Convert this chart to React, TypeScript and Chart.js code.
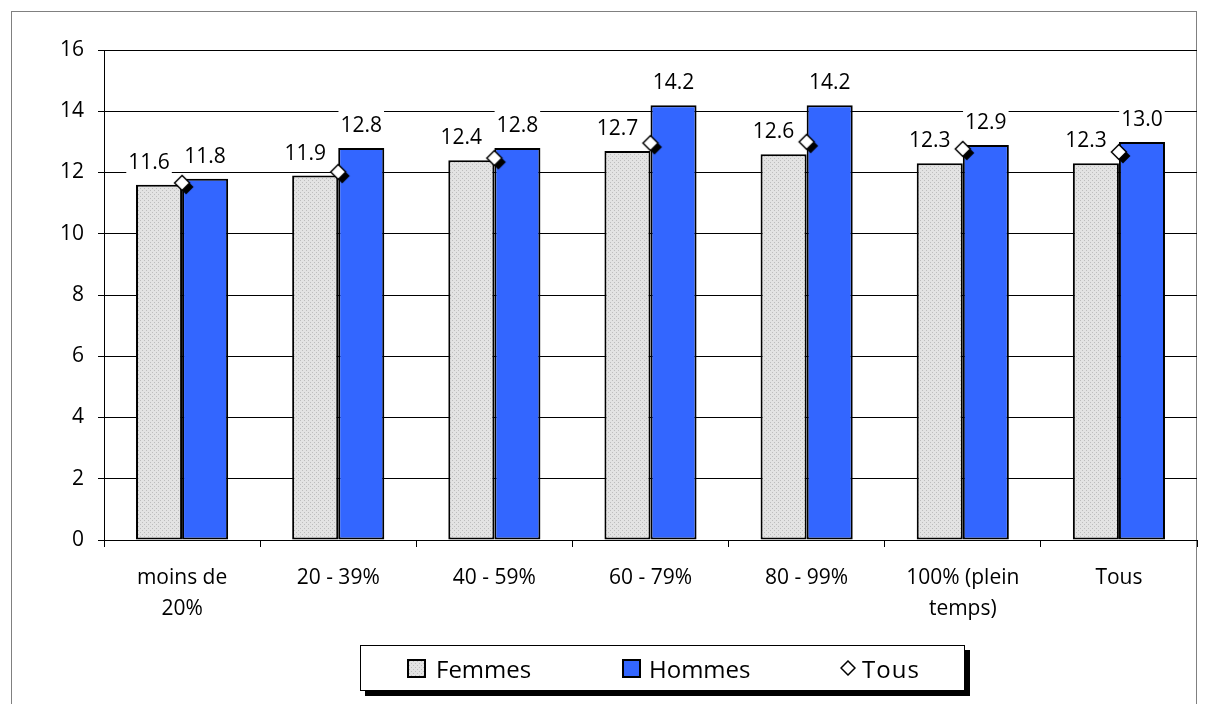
import React, { useEffect, useRef } from 'react';
import { Chart, registerables } from 'chart.js';

Chart.register(...registerables);

const categories: (string | string[])[] = [
  ['moins de', '20%'],
  '20 - 39%',
  '40 - 59%',
  '60 - 79%',
  '80 - 99%',
  ['100% (plein', 'temps)'],
  'Tous',
];
const femmes = [11.6, 11.9, 12.4, 12.7, 12.6, 12.3, 12.3];
const hommes = [11.8, 12.8, 12.8, 14.2, 14.2, 12.9, 13.0];
const tous = [11.66, 12.02, 12.47, 12.96, 13.0, 12.77, 12.67];
const seriesNames = ['Femmes', 'Hommes', 'Tous'];
const yMin = 0;
const yMax = 16;
const yStep = 2;

const FONT = '"Open Sans", "DejaVu Sans", sans-serif';

function makePatternCanvas(): HTMLCanvasElement {
  const c = document.createElement('canvas');
  c.width = 4;
  c.height = 4;
  const g = c.getContext('2d')!;
  g.fillStyle = '#e3e3e3';
  g.fillRect(0, 0, 4, 4);
  g.fillStyle = '#bdbdbd';
  g.fillRect(0, 0, 1, 1);
  g.fillRect(2, 2, 1, 1);
  return c;
}

function makeDiamond(shadow: boolean): HTMLCanvasElement {
  const S = 30;
  const c = document.createElement('canvas');
  c.width = S;
  c.height = S;
  const ctx = c.getContext('2d')!;
  const cx = S / 2;
  const r = 7.5;
  const off = 4;
  const path = (x: number, y: number) => {
    ctx.beginPath();
    ctx.moveTo(x, y - r);
    ctx.lineTo(x + r, y);
    ctx.lineTo(x, y + r);
    ctx.lineTo(x - r, y);
    ctx.closePath();
  };
  if (shadow) {
    ctx.fillStyle = '#000';
    path(cx + off, cx + off);
    ctx.fill();
  }
  ctx.fillStyle = '#fff';
  ctx.strokeStyle = '#000';
  ctx.lineWidth = 1.5;
  path(cx, cx);
  ctx.fill();
  ctx.stroke();
  return c;
}

const labelPlugin = {
  id: 'barValueLabels',
  beforeDatasetsDraw(chart: any) {
    const ctx = chart.ctx as CanvasRenderingContext2D;
    ctx.save();
    ctx.font = `21px ${FONT}`;
    ctx.textAlign = 'center';
    ctx.textBaseline = 'alphabetic';
    chart.data.datasets.forEach((ds: any, di: number) => {
      if (ds.type === 'line') return;
      const meta = chart.getDatasetMeta(di);
      const dx = ds.label === 'Femmes' ? -10 : 0;
      meta.data.forEach((bar: any, i: number) => {
        const text = (ds.data[i] as number).toFixed(1);
        const x = bar.x + dx;
        const y = bar.y - 16;
        const w = ctx.measureText(text).width;
        ctx.fillStyle = '#ffffff';
        ctx.fillRect(x - w / 2 - 2, y - 22, w + 4, 29);
        ctx.fillStyle = '#000000';
        ctx.fillText(text, x, y);
      });
    });
    ctx.restore();
  },
};

export default function App() {
  const canvasRef = useRef<HTMLCanvasElement | null>(null);

  useEffect(() => {
    const canvas = canvasRef.current;
    if (!canvas) return;
    const ctx = canvas.getContext('2d')!;
    const patCanvas = makePatternCanvas();
    const pattern = ctx.createPattern(patCanvas, 'repeat')!;
    const legendSq = document.getElementById('legend-femmes');
    if (legendSq) legendSq.style.backgroundImage = `url(${patCanvas.toDataURL()})`;

    const chart = new Chart(ctx, {
      type: 'bar',
      data: {
        labels: categories,
        datasets: [
          {
            type: 'line' as any,
            label: seriesNames[2],
            data: tous,
            showLine: false,
            pointStyle: makeDiamond(true) as any,
            pointRadius: 8,
            order: 0,
          } as any,
          {
            label: seriesNames[0],
            data: femmes,
            backgroundColor: pattern as any,
            borderColor: '#000000',
            borderWidth: 2,
            borderSkipped: false,
            order: 1,
          },
          {
            label: seriesNames[1],
            data: hommes,
            backgroundColor: '#3366FF',
            borderColor: '#000000',
            borderWidth: 2,
            borderSkipped: false,
            order: 1,
          },
        ],
      },
      options: {
        responsive: false,
        animation: false,
        devicePixelRatio: 1,
        layout: { padding: { left: 0, top: 50, right: 12, bottom: 0 } },
        datasets: {
          bar: { categoryPercentage: 0.59, barPercentage: 1.0 },
        },
        plugins: {
          legend: { display: false },
          tooltip: { enabled: false },
        },
        scales: {
          x: {
            offset: true,
            grid: {
              display: true,
              drawOnChartArea: false,
              drawTicks: true,
              tickLength: 7,
              color: '#000000',
              offset: true,
            },
            border: { display: true, color: '#000000', width: 1 },
            ticks: {
              color: '#000000',
              font: { family: FONT, size: 21, lineHeight: 1.45 },
              padding: 16,
              maxRotation: 0,
              autoSkip: false,
            },
            afterFit: (scale: any) => {
              scale.height = 164;
            },
          },
          y: {
            min: yMin,
            max: yMax,
            ticks: {
              stepSize: yStep,
              color: '#000000',
              font: { family: FONT, size: 21 },
              padding: 14,
            },
            grid: {
              color: '#000000',
              lineWidth: 1,
              tickLength: 6,
              drawTicks: true,
            },
            border: { display: true, color: '#000000', width: 1 },
            afterFit: (scale: any) => {
              scale.width = 104;
            },
          },
        },
      },
      plugins: [labelPlugin],
    });
    return () => chart.destroy();
  }, []);

  const legendItem = (left: number, node: React.ReactNode) => (
    <div style={{ position: 'absolute', left, top: 0, height: 44, display: 'flex', alignItems: 'center' }}>{node}</div>
  );

  return (
    <div style={{ position: 'absolute', left: 0, top: 0, width: 1209, height: 704, overflow: 'hidden', background: '#fff' }}>
      <div
        style={{
          position: 'absolute',
          left: 11,
          top: 11,
          width: 1186,
          height: 720,
          border: '1px solid #808080',
          boxSizing: 'border-box',
        }}
      />
      <canvas ref={canvasRef} width={1209} height={704} style={{ position: 'absolute', left: 0, top: 0, width: 1209, height: 704 }} />
      <div
        style={{
          position: 'absolute',
          left: 360,
          top: 645,
          width: 605,
          height: 46,
          border: '1px solid #000',
          boxSizing: 'border-box',
          background: '#fff',
          boxShadow: '5px 5px 0 #000',
          fontFamily: FONT,
          fontSize: 24,
          color: '#000',
        }}
      >
        {legendItem(
          46,
          <>
            <span
              id="legend-femmes"
              style={{ display: 'inline-block', width: 19, height: 19, border: '2px solid #000', boxSizing: 'border-box', background: '#dadada' }}
            />
            <span style={{ marginLeft: 10 }}>{seriesNames[0]}</span>
          </>
        )}
        {legendItem(
          261,
          <>
            <span style={{ display: 'inline-block', width: 19, height: 19, border: '2px solid #000', boxSizing: 'border-box', background: '#3366FF' }} />
            <span style={{ marginLeft: 8 }}>{seriesNames[1]}</span>
          </>
        )}
        {legendItem(
          479,
          <>
            <svg width={16} height={16} viewBox="0 0 16 16" style={{ display: 'block' }}>
              <polygon points="8,1 15,8 8,15 1,8" fill="#fff" stroke="#000" strokeWidth={1.5} />
            </svg>
            <span style={{ marginLeft: 6, letterSpacing: 1 }}>{seriesNames[2]}</span>
          </>
        )}
      </div>
    </div>
  );
}
